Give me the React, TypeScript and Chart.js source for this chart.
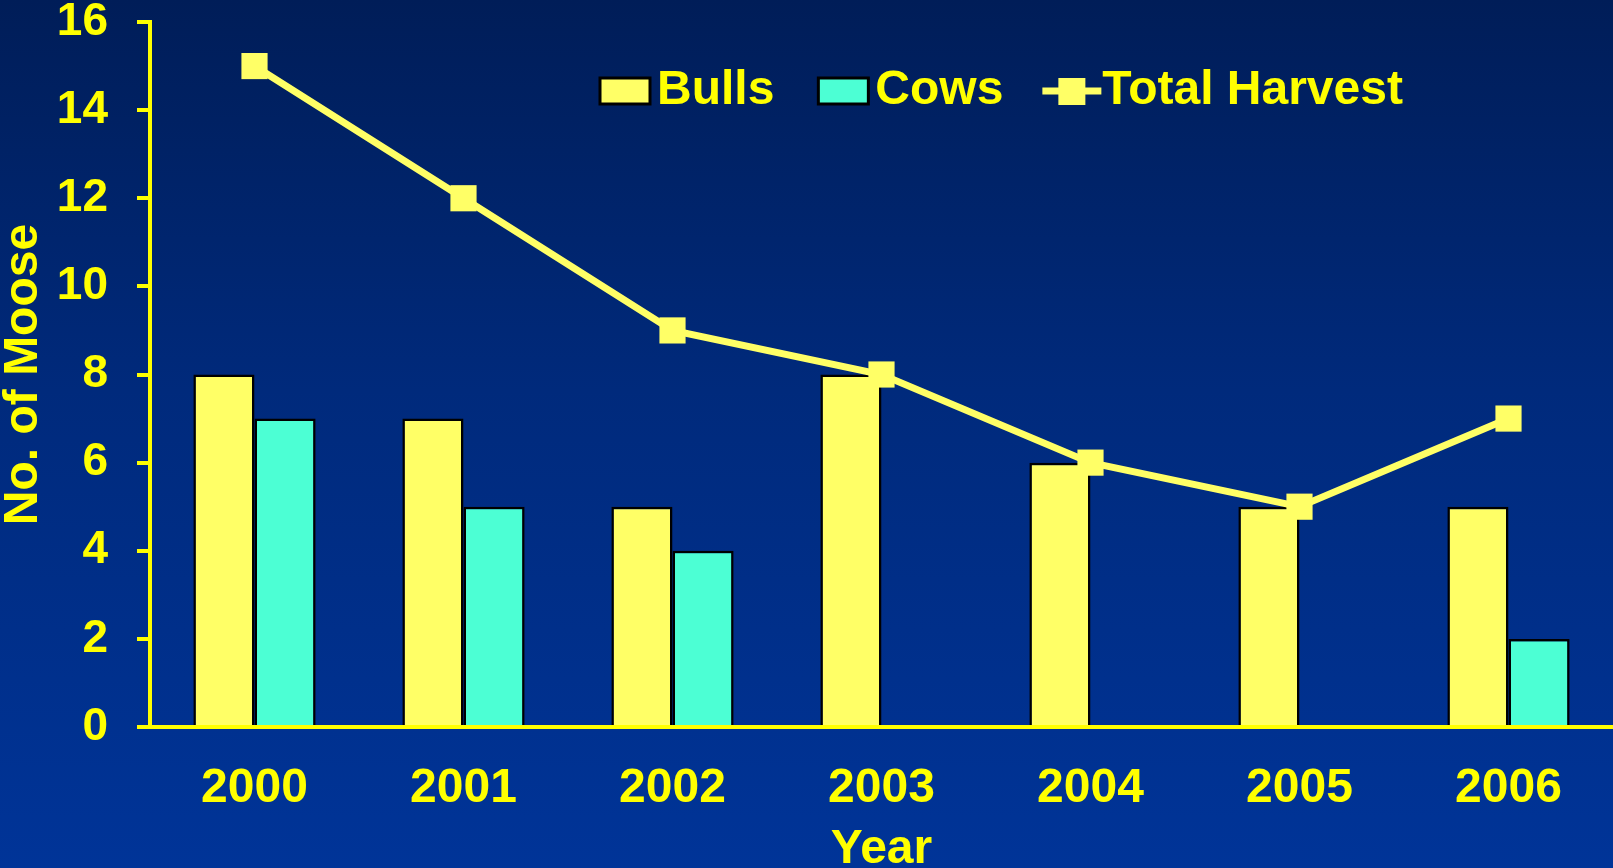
import React, { useEffect, useRef } from "react";
import { Chart, registerables } from "chart.js";

Chart.register(...registerables);

const years = ["2000", "2001", "2002", "2003", "2004", "2005", "2006"];
const bulls = [8, 7, 5, 8, 6, 5, 5];
const cows = [7, 5, 4, 0, 0, 0, 2];
const totalHarvest = [15, 12, 9, 8, 6, 5, 7];
const yMin = 0;
const yMax = 16;
const yStep = 2;

const FONT = "'Liberation Sans', Arial, Helvetica, sans-serif";
const YELLOW = "#FFFF00";
const BULL = "#FFFF66";
const COW = "#4CFFD4";
const LINE = "#FFFF66";

const legendPlugin = {
  id: "customLegend",
  afterDraw(chart: any) {
    const ctx = chart.ctx;
    const ds = chart.data.datasets;
    ctx.save();
    ctx.font = `bold 48px ${FONT}`;
    ctx.textBaseline = "middle";
    ctx.textAlign = "left";
    const cy = 91;
    let x = 600;
    const gaps = [44, 39, 0];
    ds.forEach((d: any, i: number) => {
      if (d.type === "line") {
        ctx.strokeStyle = d.borderColor;
        ctx.lineWidth = 7;
        ctx.beginPath();
        ctx.moveTo(x, cy);
        ctx.lineTo(x + 59, cy);
        ctx.stroke();
        ctx.fillStyle = d.pointBackgroundColor;
        ctx.fillRect(x + 16, cy - 13, 27, 27);
        x += 60;
      } else {
        ctx.fillStyle = d.backgroundColor;
        ctx.fillRect(x, cy - 13, 50, 26);
        ctx.strokeStyle = "#000000";
        ctx.lineWidth = 3;
        ctx.strokeRect(x, cy - 13, 50, 26);
        x += 57;
      }
      ctx.fillStyle = YELLOW;
      ctx.fillText(d.label, x, cy);
      x += ctx.measureText(d.label).width + gaps[i];
    });
    ctx.restore();
  },
};

export default function App() {
  const ref = useRef<HTMLCanvasElement | null>(null);

  useEffect(() => {
    if (!ref.current) return;
    const chart = new Chart(ref.current, {
      type: "bar",
      data: {
        labels: years,
        datasets: [
          {
            type: "bar",
            label: "Bulls",
            data: bulls,
            backgroundColor: BULL,
            borderColor: "#000000",
            borderWidth: 2.5,
            categoryPercentage: 0.585,
            barPercentage: 1,
            order: 2,
          },
          {
            type: "bar",
            label: "Cows",
            data: cows,
            backgroundColor: COW,
            borderColor: "#000000",
            borderWidth: 2.5,
            categoryPercentage: 0.585,
            barPercentage: 1,
            order: 2,
          },
          {
            type: "line",
            label: "Total Harvest",
            data: totalHarvest,
            borderColor: LINE,
            backgroundColor: LINE,
            borderWidth: 7,
            pointStyle: "rect",
            pointRadius: 18.5,
            pointBackgroundColor: LINE,
            pointBorderColor: LINE,
            pointBorderWidth: 0,
            tension: 0,
            clip: false,
            order: 0,
          } as any,
        ],
      },
      options: {
        animation: false,
        responsive: true,
        maintainAspectRatio: false,
        layout: { padding: 0, autoPadding: false },
        plugins: {
          legend: { display: false },
          tooltip: { enabled: false },
        },
        scales: {
          x: {
            z: 1,
            offset: true,
            grid: { display: false, drawTicks: false },
            border: { display: true, color: YELLOW, width: 4 },
            ticks: {
              color: YELLOW,
              font: { family: FONT, size: 48, weight: "bold", lineHeight: 1 },
              padding: 38,
              maxRotation: 0,
            },
            title: {
              display: true,
              text: "Year",
              color: YELLOW,
              font: { family: FONT, size: 48, weight: "bold", lineHeight: 1 },
              padding: { top: 0, bottom: 26 },
            },
            afterFit: (scale: any) => {
              scale.height = 173;
              scale.paddingLeft = 0;
              scale.paddingRight = 0;
            },
          },
          y: {
            z: 1,
            min: yMin,
            max: yMax,
            grid: {
              drawOnChartArea: false,
              drawTicks: true,
              tickLength: 13,
              color: YELLOW,
              lineWidth: 4,
            },
            border: { display: true, color: YELLOW, width: 4 },
            ticks: {
              stepSize: yStep,
              color: YELLOW,
              font: { family: FONT, size: 46, weight: "bold", lineHeight: 1 },
              padding: 29,
            },
            title: {
              display: true,
              text: "No. of Moose",
              color: YELLOW,
              font: { family: FONT, size: 48, weight: "bold", lineHeight: 1 },
              padding: { top: 0, bottom: 0 },
            },
            afterFit: (scale: any) => {
              scale.width = 150;
              scale.paddingTop = 22;
              scale.paddingBottom = 0;
            },
          },
        },
      },
      plugins: [legendPlugin],
    });
    return () => chart.destroy();
  }, []);

  return (
    <div
      style={{
        position: "fixed",
        left: 0,
        top: 0,
        width: "1613px",
        height: "868px",
        overflow: "hidden",
        background: "linear-gradient(to bottom, #001d58 0%, #002a7c 45%, #003498 100%)",
      }}
    >
      <div style={{ position: "absolute", left: 0, top: 0, width: "1613px", height: "900px" }}>
        <canvas ref={ref} />
      </div>
    </div>
  );
}
